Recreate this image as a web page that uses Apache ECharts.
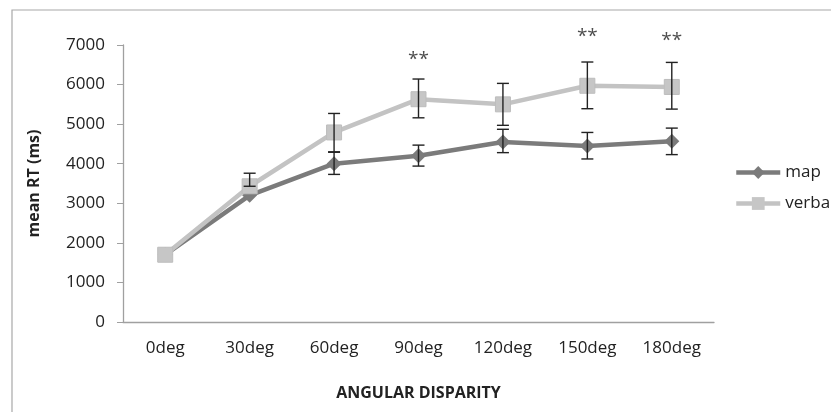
<!DOCTYPE html>
<html>
<head>
<meta charset="utf-8">
<script src="https://cdn.jsdelivr.net/npm/echarts@6/dist/echarts.min.js"></script>
<style>
html, body { margin: 0; padding: 0; background: #fff; }
#echart { width: 831px; height: 412px; }
</style>
</head>
<body>
<div id="echart"></div>
<script>
var categories = ['0deg', '30deg', '60deg', '90deg', '120deg', '150deg', '180deg'];
var mapValues = [1700, 3200, 4000, 4200, 4550, 4450, 4570];
var verbalValues = [1700, 3430, 4790, 5630, 5500, 5970, 5940];
// error bar ends (null = not visible)
var mapLow = [null, null, 3730, 3940, 4280, 4120, 4230];
var mapHigh = [null, null, 4300, 4470, 4870, 4790, 4900];
var verbalLow = [null, null, 4290, 5160, 4970, 5390, 5380];
var verbalHigh = [null, 3760, 5270, 6140, 6030, 6570, 6560];
// significance marks
var starPos = [[3, 6640], [5, 7220], [6, 7120]];

var font = '"Open Sans", "Noto Sans", sans-serif';

function errData(lo, hi, mid) {
    var out = [];
    for (var i = 0; i < categories.length; i++) {
        if (hi[i] == null) continue;
        out.push([i, lo[i] == null ? mid[i] : lo[i], hi[i]]);
    }
    return out;
}

function renderErr(params, api) {
    var x = api.value(0);
    var lo = api.coord([x, api.value(1)]);
    var hi = api.coord([x, api.value(2)]);
    var half = 6;
    var style = { stroke: '#222', lineWidth: 1.4 };
    return {
        type: 'group',
        children: [
            { type: 'line', shape: { x1: hi[0], y1: hi[1], x2: lo[0], y2: lo[1] }, style: style },
            { type: 'line', shape: { x1: hi[0] - half, y1: hi[1], x2: hi[0] + half, y2: hi[1] }, style: style },
            { type: 'line', shape: { x1: lo[0] - half, y1: lo[1], x2: lo[0] + half, y2: lo[1] }, style: style }
        ]
    };
}

var myChart = echarts.init(document.getElementById('echart'));
var option = {
    animation: false,
    graphic: [{
        type: 'rect',
        shape: { x: 12, y: 10, width: 900, height: 500 },
        style: { fill: 'none', stroke: '#a8a8a8', lineWidth: 1.2 },
        z: -10
    }],
    grid: { left: 123, top: 45, right: 117, bottom: 90 },
    legend: {
        orient: 'vertical',
        left: 734,
        top: 164,
        padding: 0,
        itemWidth: 44,
        itemHeight: 16,
        itemGap: 14,
        itemStyle: { borderWidth: 0 },
        lineStyle: { width: 4.5 },
        data: ['map', 'verbal'],
        textStyle: { fontFamily: font, fontSize: 17, color: '#222' }
    },
    xAxis: {
        type: 'category',
        data: categories,
        name: 'ANGULAR DISPARITY',
        nameLocation: 'middle',
        nameGap: 63,
        nameTextStyle: { fontFamily: font, fontSize: 16, fontWeight: 'bold', color: '#222' },
        axisLine: { lineStyle: { color: '#a0a0a0', width: 1.3 } },
        axisTick: { length: 6, lineStyle: { color: '#a0a0a0' } },
        axisLabel: { fontFamily: font, fontSize: 17, color: '#222', margin: 18 }
    },
    yAxis: {
        type: 'value',
        min: 0,
        max: 7000,
        interval: 1000,
        name: 'mean RT (ms)',
        nameLocation: 'middle',
        nameGap: 81,
        nameTextStyle: { fontFamily: font, fontSize: 16, fontWeight: 'bold', color: '#222' },
        axisLine: { show: true, lineStyle: { color: '#a0a0a0', width: 1.3 } },
        axisTick: { show: true, length: 6, lineStyle: { color: '#a0a0a0' } },
        splitLine: { show: false },
        axisLabel: { fontFamily: font, fontSize: 17, color: '#222', margin: 18, formatter: function (v) { return String(v); } }
    },
    series: [
        {
            name: 'map',
            type: 'line',
            data: mapValues,
            symbol: 'diamond',
            symbolSize: 15,
            lineStyle: { color: '#7b7b7b', width: 4.5 },
            itemStyle: { color: '#7b7b7b' },
            z: 2
        },
        {
            name: 'verbal',
            type: 'line',
            data: verbalValues,
            symbol: 'rect',
            symbolSize: 15,
            lineStyle: { color: '#c3c3c3', width: 4.5 },
            itemStyle: { color: '#c6c6c6', borderColor: '#bdbdbd', borderWidth: 1 },
            z: 3
        },
        {
            type: 'custom',
            renderItem: renderErr,
            data: errData(mapLow, mapHigh, mapValues),
            z: 4,
            silent: true
        },
        {
            type: 'custom',
            renderItem: renderErr,
            data: errData(verbalLow, verbalHigh, verbalValues),
            z: 4,
            silent: true
        },
        {
            type: 'scatter',
            data: starPos,
            symbolSize: 0,
            clip: false,
            silent: true,
            label: {
                show: true,
                position: 'inside',
                formatter: '**',
                fontFamily: font,
                fontSize: 19,
                color: '#222'
            }
        }
    ]
};
myChart.setOption(option);
window.onresize = myChart.resize;
</script>
</body>
</html>
